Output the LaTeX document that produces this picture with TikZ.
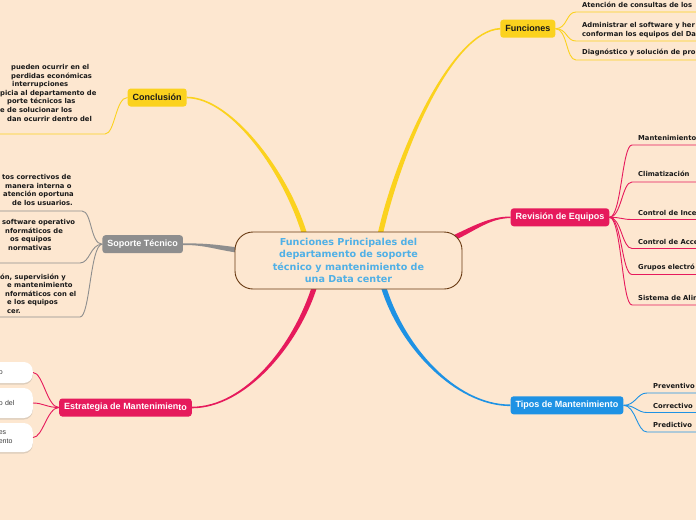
\documentclass[tikz,border=0pt]{standalone}
\usepackage{fontspec}
\usetikzlibrary{calc,backgrounds,shadows}

\newfontfamily\topicfont{Liberation Sans}
\newfontfamily\leaffont{DejaVu Sans}

\definecolor{paper}{RGB}{253,231,208}
\definecolor{sunny}{RGB}{251,210,30}
\definecolor{rose}{RGB}{230,26,92}
\definecolor{ash}{RGB}{142,142,142}
\definecolor{sky}{RGB}{30,146,228}
\definecolor{titleblue}{RGB}{80,176,230}
\definecolor{bark}{RGB}{105,58,18}
\definecolor{ink}{RGB}{25,25,25}
\definecolor{boxink}{RGB}{60,60,60}

% tapered main branch: colour, start, control, control, end
\newcommand{\thickbranch}[5]{%
  \fill[#1] ($(#2)!2.6pt!90:(#3)$) .. controls ($(#3)!2.6pt!-90:(#2)$) and ($(#4)!0.8pt!90:(#5)$) .. ($(#5)!0.8pt!-90:(#4)$)
    -- ($(#5)!0.8pt!90:(#4)$) .. controls ($(#4)!0.8pt!-90:(#5)$) and ($(#3)!2.6pt!90:(#2)$) .. ($(#2)!2.6pt!-90:(#3)$) -- cycle;}
% several lines, baseline on the first one
\newcommand{\leaflines}[1]{\begin{tabular}[t]{@{}l@{}}#1\end{tabular}}

\tikzset{
  core/.style={draw=bark, line width=0.9pt, fill=paper, rounded corners=18pt,
    minimum width=227pt, minimum height=57pt, inner sep=0pt, align=center,
    text=titleblue, font=\leaffont\bfseries\fontsize{9.6}{12.2}\selectfont},
  topic/.style={rounded corners=3pt, minimum height=18pt, inner xsep=5pt, inner ysep=0pt,
    font=\topicfont\bfseries\fontsize{9}{10}\selectfont},
  leaf/.style={anchor=base west, inner sep=0pt, text=ink,
    font=\leaffont\bfseries\fontsize{6.8}{8.6}\selectfont},
  pill/.style={anchor=east, fill=white, rounded corners=9pt, text width=25pt,
    inner xsep=9pt, inner ysep=0pt, align=left, text=boxink,
    font=\topicfont\fontsize{7}{9}\selectfont,
    drop shadow={shadow xshift=0pt, shadow yshift=-1.5pt, opacity=0.25}},
  sprig/.style={line width=0.9pt},
  toright/.style={to path={.. controls +(12pt,0) and +(-10pt,0) .. (\tikztotarget)}},
  toleft/.style={to path={.. controls +(-12pt,0) and +(10pt,0) .. (\tikztotarget)}},
}

\begin{document}
\begin{tikzpicture}[x=1pt,y=-1pt]
\useasboundingbox (0,0) rectangle (696,520);
\clip (0,0) rectangle (696,520);
\coordinate (rim) at (705,0);
\coordinate (lrim) at (-8,0);

% central topic
\node[core] (centre) at (348.5,260.5) {Funciones Principales del\\departamento de soporte\\técnico y mantenimiento de\\una Data center};

% main topics
\node[topic, fill=sunny, text=ink] (fun) at (527.8,28.7) {Funciones};
\node[topic, fill=sunny, text=ink] (con) at (157.2,97.5) {Conclusión};
\node[topic, fill=ash, text=white] (sop) at (142.7,244.2) {Soporte Técnico};
\node[topic, fill=rose, text=white] (est) at (125.5,407.5) {Estrategia de Mantenimien\raisebox{-1pt}{to}};
\node[topic, fill=rose, text=white] (rev) at (560,217.3) {Revisión de Equipos};
\node[topic, fill=sky, text=white] (tip) at (567,405.3) {Tipos de Mantenimiento};

% branch coordinates
\coordinate (funA) at ([xshift=31pt,yshift=-6pt]centre.north);
\coordinate (funB) at (398,152);
\coordinate (funC) at (452,31);
\coordinate (conA) at ([xshift=-43pt,yshift=-6pt]centre.north);
\coordinate (conB) at (288,175);
\coordinate (conC) at (232,97.5);
\coordinate (sopA) at ([xshift=6pt,yshift=10pt]centre.west);
\coordinate (sopB) at (215,247);
\coordinate (sopC) at (205,244);
\coordinate (estA) at ([xshift=-33pt,yshift=6pt]centre.south);
\coordinate (estB) at (297,345);
\coordinate (estC) at (245,407.5);
\coordinate (tipA) at ([xshift=34pt,yshift=6pt]centre.south);
\coordinate (tipB) at (400,345);
\coordinate (tipC) at (455,405.3);
\coordinate (revA) at ([xshift=-12pt,yshift=-8pt]centre.north east);
\coordinate (revB) at (475,228);
\coordinate (revC) at (490,217.3);

\begin{scope}[on background layer]
  \fill[paper] (0,0) rectangle (696,520);
  \thickbranch{sunny}{funA}{funB}{funC}{fun.west}
  \thickbranch{sunny}{conA}{conB}{conC}{con.east}
  \thickbranch{ash}{sopA}{sopB}{sopC}{sop.east}
  \thickbranch{rose}{estA}{estB}{estC}{est.east}
  \thickbranch{sky}{tipA}{tipB}{tipC}{tip.west}
  \thickbranch{rose}{revA}{revB}{revC}{rev.west}
\end{scope}

% Funciones
\node[leaf] (f1) at (582,7.5) {Atención de consultas de los};
\node[leaf] (f2) at (582,27.5) {\leaflines{Administrar el software y her\\conforman los equipos del Da}};
\node[leaf] (f3) at (582,54.5) {Diagnóstico y solución de pro};
\coordinate (f1u) at (576,12);
\coordinate (f2u) at (576,41);
\coordinate (f3u) at (576,60);
\draw[sprig, sunny] (fun.east) to[toright] (f1u) -- (f1u -| rim);
\draw[sprig, sunny] (fun.east) to[toright] (f2u) -- (f2u -| rim);
\draw[sprig, sunny] (fun.east) to[toright] (f3u) -- (f3u -| rim);

% Revision de equipos
\node[leaf] (r1) at (638,140) {Mantenimiento};
\node[leaf] (r2) at (638,176.5) {Climatización};
\node[leaf] (r3) at (638,215.5) {Control de Ince};
\node[leaf] (r4) at (638,244.5) {Control de Acce};
\node[leaf] (r5) at (638,269.5) {Grupos electró};
\node[leaf] (r6) at (638,300.5) {Sistema de Alim};
\coordinate (r1u) at (632,145);
\coordinate (r2u) at (632,182);
\coordinate (r3u) at (632,219.5);
\coordinate (r4u) at (632,248.5);
\coordinate (r5u) at (632,274.5);
\coordinate (r6u) at (632,305);
\draw[sprig, rose] (rev.east) to[toright] (r1u) -- (r1u -| rim);
\draw[sprig, rose] (rev.east) to[toright] (r2u) -- (r2u -| rim);
\draw[sprig, rose] (rev.east) to[toright] (r3u) -- (r3u -| rim);
\draw[sprig, rose] (rev.east) to[toright] (r4u) -- (r4u -| rim);
\draw[sprig, rose] (rev.east) to[toright] (r5u) -- (r5u -| rim);
\draw[sprig, rose] (rev.east) to[toright] (r6u) -- (r6u -| rim);

% Tipos de mantenimiento
\node[leaf] (t1) at (653,388.5) {Preventivo};
\node[leaf] (t2) at (653,408.5) {Correctivo};
\node[leaf] (t3) at (653,427.5) {Predictivo};
\coordinate (t1u) at (647,393);
\coordinate (t2u) at (647,412.5);
\coordinate (t3u) at (647,432);
\draw[sprig, sky] (tip.east) to[toright] (t1u) -- (t1u -| rim);
\draw[sprig, sky] (tip.east) to[toright] (t2u) -- (t2u -| rim);
\draw[sprig, sky] (tip.east) to[toright] (t3u) -- (t3u -| rim);

% Conclusion
\node[leaf] (c1) at (0,69.5) {\leaflines{\hspace*{11pt}pueden ocurrir en el\\\hspace*{11pt}perdidas económicas\\\hspace*{12pt}interrupciones\\picia al departamento de\\\hspace*{7pt}porte técnicos las\\e de solucionar los\\\hspace*{7pt}dan ocurrir dentro del}};
\coordinate (c1u) at (105,134);
\draw[sprig, sunny] (con.west) to[toleft] (c1u) -- (c1u -| lrim);

% Soporte tecnico
\node[leaf] (s1) at (0,179.5) {\leaflines{\hspace*{2pt}tos correctivos de\\\hspace*{5pt}manera interna o\\\hspace*{3pt}atención oportuna\\\hspace*{12pt}de los usuarios.}};
\node[leaf] (s2) at (0,224.5) {\leaflines{\hspace*{2pt}software operativo\\\hspace*{5pt}nformáticos de\\\hspace*{10pt}os equipos\\\hspace*{8pt}normativas}};
\node[leaf] (s3) at (0,279) {\leaflines{ón, supervisión y\\\hspace*{7pt}e mantenimiento\\\hspace*{5pt}nformáticos con el\\\hspace*{7pt}e los equipos\\\hspace*{7pt}cer.}};
\coordinate (s1u) at (82,211);
\coordinate (s2u) at (80,263);
\coordinate (s3u) at (80,317);
\draw[sprig, ash] (sop.west) to[toleft] (s1u) -- (s1u -| lrim);
\draw[sprig, ash] (sop.west) to[toleft] (s2u) -- (s2u -| lrim);
\draw[sprig, ash] (sop.west) to[toleft] (s3u) -- (s3u -| lrim);

% Estrategia de mantenimiento
\node[pill, minimum height=21pt] (e1) at (33,372.5) {o};
\node[pill, minimum height=30pt] (e2) at (33,403) {o del};
\node[pill, minimum height=29pt] (e3) at (33,437.5) {es\\ento};
\draw[sprig, rose] (est.west) to[toleft] (e1.east);
\draw[sprig, rose] (est.west) to[toleft] (e2.east);
\draw[sprig, rose] (est.west) to[toleft] (e3.east);
\end{tikzpicture}
\end{document}
